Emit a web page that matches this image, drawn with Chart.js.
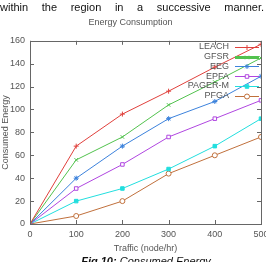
<!DOCTYPE html>
<html>
<head>
<meta charset="utf-8">
<script src="https://cdn.jsdelivr.net/npm/chart.js@4/dist/chart.umd.min.js"></script>
<style>
  html, body { margin: 0; padding: 0; background: #fff; }
  #wrap { position: relative; width: 266px; height: 262px; overflow: hidden; }
  #chart { position: absolute; left: 0; top: 0; }
  #bodytext {
    position: absolute; left: 0; top: 0; width: 264px;
    font: 11px "Liberation Sans", Arial, sans-serif; color: #111;
    text-align: justify; text-align-last: justify; line-height: 14px;
  }
  #caption {
    position: absolute; left: 0; width: 266px; top: 255px;
    font: italic 11px "Liberation Sans", Arial, sans-serif; color: #111;
    text-align: center; padding-left: 26px; box-sizing: border-box;
  }
</style>
</head>
<body>
<div id="wrap">
  <canvas id="chart" width="266" height="262"></canvas>
  <div id="bodytext">within the region in a successive manner.</div>
  <div id="caption"><b>Fig 10:</b> Consumed Energy</div>
</div>
<script>
// データ
const traffic = [0, 100, 200, 300, 400, 500];
const seriesNames = ['LEACH', 'GFSR', 'EEG', 'EPFA', 'PAGER-M', 'PFGA'];
const leach  = [0, 68, 96, 116, 137, 157];
const gfsr   = [0, 56, 76, 104, 124, 145];
const eeg    = [0, 40, 68, 92, 107, 129];
const epfa   = [0, 31, 52, 76, 92, 108];
const pagerM = [0, 20, 31, 48, 68, 92];
const pfga   = [0, 7, 20, 44, 60, 76];

const seriesValues = [leach, gfsr, eeg, epfa, pagerM, pfga];
const colors = ['#e0403c', '#52c24e', '#3c82dc', '#b046e0', '#22dede', '#c0703c'];
const markers = ['cross', 'crossRot', 'star', 'rect', 'rect', 'circle'];
const filled = [false, false, false, false, true, false];

const textColor = '#555';
const fontFamily = '"Liberation Sans", Arial, sans-serif';

const datasets = seriesNames.map((name, i) => ({
  label: name,
  data: traffic.map((t, j) => ({ x: t, y: seriesValues[i][j] })),
  borderColor: colors[i],
  backgroundColor: filled[i] ? colors[i] : '#fff',
  pointStyle: markers[i],
  pointRadius: 2.5,
  pointBorderWidth: 1,
  borderWidth: 1,
  tension: 0
}));

// 枠線と内向きの目盛り、凡例（gnuplot風）
const framePlugin = {
  id: 'frame',
  afterDatasetsDraw(chart) {
    const { ctx, chartArea: a, scales } = chart;
    ctx.save();
    ctx.strokeStyle = '#666';
    ctx.lineWidth = 1;
    ctx.strokeRect(Math.round(a.left) + 0.5, Math.round(a.top) + 0.5,
      Math.round(a.right - a.left), Math.round(a.bottom - a.top));
    ctx.beginPath();
    scales.x.ticks.forEach(t => {
      const x = Math.round(scales.x.getPixelForValue(t.value)) + 0.5;
      ctx.moveTo(x, a.bottom); ctx.lineTo(x, a.bottom - 4);
      ctx.moveTo(x, a.top); ctx.lineTo(x, a.top + 4);
    });
    scales.y.ticks.forEach(t => {
      const y = Math.round(scales.y.getPixelForValue(t.value)) + 0.5;
      ctx.moveTo(a.left, y); ctx.lineTo(a.left + 4, y);
      ctx.moveTo(a.right, y); ctx.lineTo(a.right - 4, y);
    });
    ctx.stroke();

    // 凡例
    ctx.font = '9px ' + fontFamily;
    ctx.textAlign = 'right';
    ctx.textBaseline = 'middle';
    chart.data.datasets.forEach((ds, i) => {
      const y = 47 + i * 9.7;
      ctx.fillStyle = textColor;
      ctx.fillText(ds.label, 229, y);
      ctx.strokeStyle = ds.borderColor;
      ctx.lineWidth = ds.label === 'GFSR' ? 3 : 1;
      ctx.beginPath();
      ctx.moveTo(235, Math.round(y) + 0.5);
      ctx.lineTo(259, Math.round(y) + 0.5);
      ctx.stroke();
      ctx.lineWidth = 1;
      ctx.fillStyle = filled[i] ? ds.borderColor : '#fff';
      Chart.helpers.drawPoint(ctx, {
        pointStyle: ds.pointStyle, radius: 2.5, borderWidth: 1, rotation: 0
      }, 247, Math.round(y) + 0.5);
    });
    ctx.restore();
  }
};

new Chart(document.getElementById('chart').getContext('2d'), {
  type: 'line',
  data: { datasets },
  options: {
    responsive: false,
    animation: false,
    layout: { padding: { top: 17, right: 5, bottom: 8, left: 0 } },
    plugins: {
      legend: { display: false },
      tooltip: { enabled: false },
      title: {
        display: true,
        text: 'Energy Consumption',
        color: textColor,
        font: { family: fontFamily, size: 9, weight: 'normal' },
        padding: { top: 0, bottom: 13 }
      }
    },
    scales: {
      x: {
        type: 'linear',
        min: 0, max: 500,
        grid: { display: false, drawTicks: false },
        border: { display: false },
        ticks: { stepSize: 100, color: textColor, padding: 5,
          font: { family: fontFamily, size: 9 } },
        title: { display: true, text: 'Traffic (node/hr)', color: textColor,
          font: { family: fontFamily, size: 9 }, padding: 0 },
        afterFit(s) { s.height = 30; s.paddingLeft = 0; s.paddingRight = 0; }
      },
      y: {
        min: 0, max: 160,
        grid: { display: false, drawTicks: false },
        border: { display: false },
        ticks: { stepSize: 20, color: textColor, padding: 5,
          font: { family: fontFamily, size: 9 } },
        title: { display: true, text: 'Consumed Energy', color: textColor,
          font: { family: fontFamily, size: 9 }, padding: 0 },
        afterFit(s) { s.width = 30; }
      }
    }
  },
  plugins: [framePlugin]
});
</script>
</body>
</html>
